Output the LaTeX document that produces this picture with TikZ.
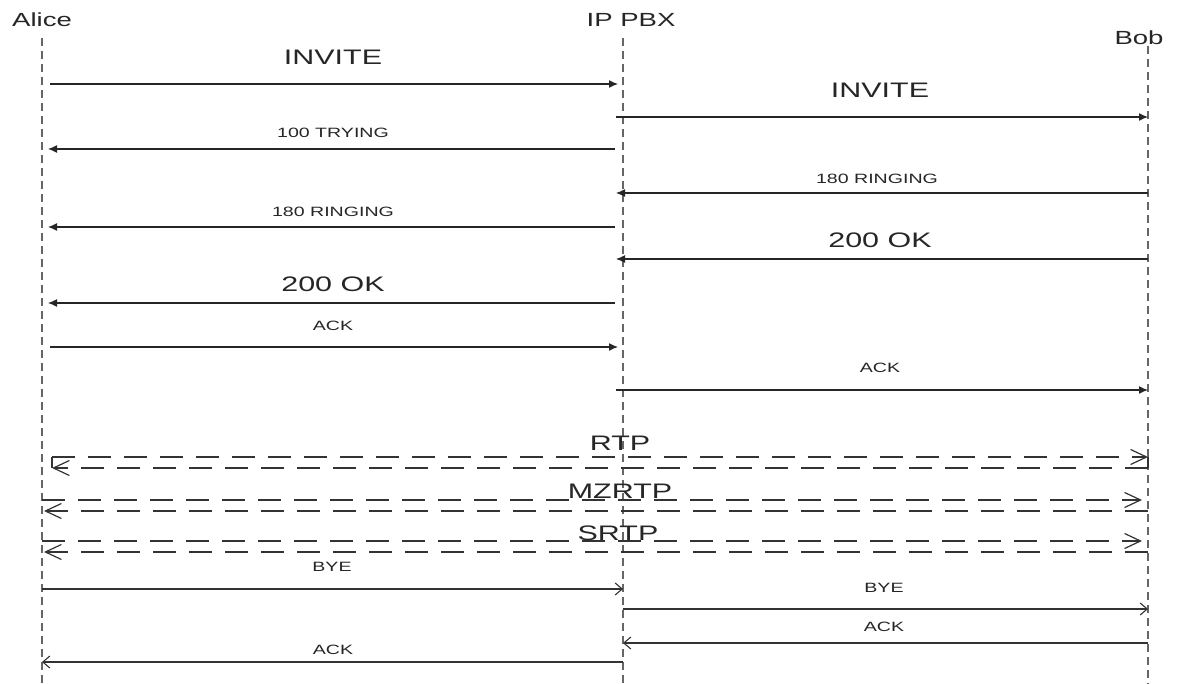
\documentclass[tikz,border=0pt]{standalone}
\usepackage{fontspec}
\setmainfont[FakeStretch=1.45]{Liberation Sans}
\usetikzlibrary{arrows.meta}
\begin{document}
\begin{tikzpicture}[x=1pt,y=-1pt,
 lifeline/.style={draw=black!60, line width=1.6pt, dash pattern=on 8pt off 5pt},
 msg/.style={draw=black!85, line width=1.2pt, -{Latex[length=9pt,width=8pt]}},
 omsg/.style={draw=black!80, line width=1.2pt, -{Straight Barb[length=7pt,width=12pt,line width=1.1pt]}},
 media/.style={draw=black!80, line width=1.5pt, dash pattern=on 23pt off 13pt, -{Straight Barb[length=16pt,width=15pt,line width=1.2pt]}},
 big/.style={font=\fontsize{21}{25}\selectfont, text=black!85, inner sep=0pt},
 small/.style={font=\fontsize{13.5}{16}\selectfont, text=black!85, inner sep=0pt},
 head/.style={font=\fontsize{19}{22}\selectfont, text=black!85, inner sep=0pt}]
\useasboundingbox (0,0) rectangle (1184,684);
\fill[white] (0,0) rectangle (1184,684);
% heads
\node[head] (alice) at (42,20) {Alice};
\node[head] (pbx) at (631,20) {IP PBX};
\node[head] (bob) at (1139,38) {Bob};
% lifelines
\coordinate (aT) at (42,38);  \coordinate (aB) at (42,684);
\coordinate (pT) at (623,38); \coordinate (pB) at (623,684);
\coordinate (bT) at (1148,46); \coordinate (bB) at (1148,684);
\draw[lifeline] (aT) -- (aB);
\draw[lifeline] (pT) -- (pB);
\draw[lifeline] (bT) -- (bB);
% message end points
\coordinate (m1s) at (50,84);    \coordinate (m1e) at (618,84);
\coordinate (m2s) at (616,117);  \coordinate (m2e) at (1148,117);
\coordinate (m3s) at (615,149);  \coordinate (m3e) at (48,149);
\coordinate (m4s) at (1148,193); \coordinate (m4e) at (616,193);
\coordinate (m5s) at (615,227);  \coordinate (m5e) at (48,227);
\coordinate (m6s) at (1148,259); \coordinate (m6e) at (616,259);
\coordinate (m7s) at (615,303);  \coordinate (m7e) at (48,303);
\coordinate (m8s) at (50,347);   \coordinate (m8e) at (618,347);
\coordinate (m9s) at (616,390);  \coordinate (m9e) at (1148,390);
\draw[msg] (m1s) -- (m1e);
\draw[msg] (m2s) -- (m2e);
\draw[msg] (m3s) -- (m3e);
\draw[msg] (m4s) -- (m4e);
\draw[msg] (m5s) -- (m5e);
\draw[msg] (m6s) -- (m6e);
\draw[msg] (m7s) -- (m7e);
\draw[msg] (m8s) -- (m8e);
\draw[msg] (m9s) -- (m9e);
\node[big] (l1) at (333,57) {INVITE};
\node[big] (l2) at (880,90) {INVITE};
\node[small] (l3) at (333,133) {100 TRYING};
\node[small] (l4) at (877,179) {180 RINGING};
\node[small] (l5) at (333,212) {180 RINGING};
\node[big] (l6) at (880,240) {200 OK};
\node[big] (l7) at (333,284) {200 OK};
\node[small] (l8) at (333,326) {ACK};
\node[small] (l9) at (880,368) {ACK};
% media streams
\coordinate (r1s) at (52,457);  \coordinate (r1e) at (1148,457);
\coordinate (r2s) at (1148,468); \coordinate (r2e) at (52,468);
\coordinate (z1s) at (42,500);  \coordinate (z1e) at (1142,500);
\coordinate (z2s) at (1148,511); \coordinate (z2e) at (44,511);
\coordinate (s1s) at (42,541);  \coordinate (s1e) at (1142,541);
\coordinate (s2s) at (1148,552); \coordinate (s2e) at (44,552);
\draw[media] (r1s) -- (r1e);
\draw[media] (r2s) -- (r2e);
\draw[draw=black!80, line width=1.2pt] (r1s) -- (r2e);
\draw[draw=black!80, line width=1.2pt] (r1e) -- (r2s);
\draw[media] (z1s) -- (z1e);
\draw[media] (z2s) -- (z2e);
\draw[media] (s1s) -- (s1e);
\draw[media] (s2s) -- (s2e);
\node[big, anchor=base] (rtp) at (620,451) {RTP};
\node[big, anchor=base] (mz) at (620,499) {MZRTP};
\node[big, anchor=base] (sr) at (618,540) {SRTP};
% teardown
\coordinate (b1s) at (42,589);   \coordinate (b1e) at (623,589);
\coordinate (b2s) at (623,609);  \coordinate (b2e) at (1148,609);
\coordinate (k1s) at (1148,643); \coordinate (k1e) at (623,643);
\coordinate (k2s) at (623,662);  \coordinate (k2e) at (42,662);
\draw[omsg] (b1s) -- (b1e);
\draw[omsg] (b2s) -- (b2e);
\draw[omsg] (k1s) -- (k1e);
\draw[omsg] (k2s) -- (k2e);
\node[small] (lb1) at (332,567) {BYE};
\node[small] (lb2) at (884,588) {BYE};
\node[small] (lk1) at (884,627) {ACK};
\node[small] (lk2) at (333,650) {ACK};
\end{tikzpicture}
\end{document}
